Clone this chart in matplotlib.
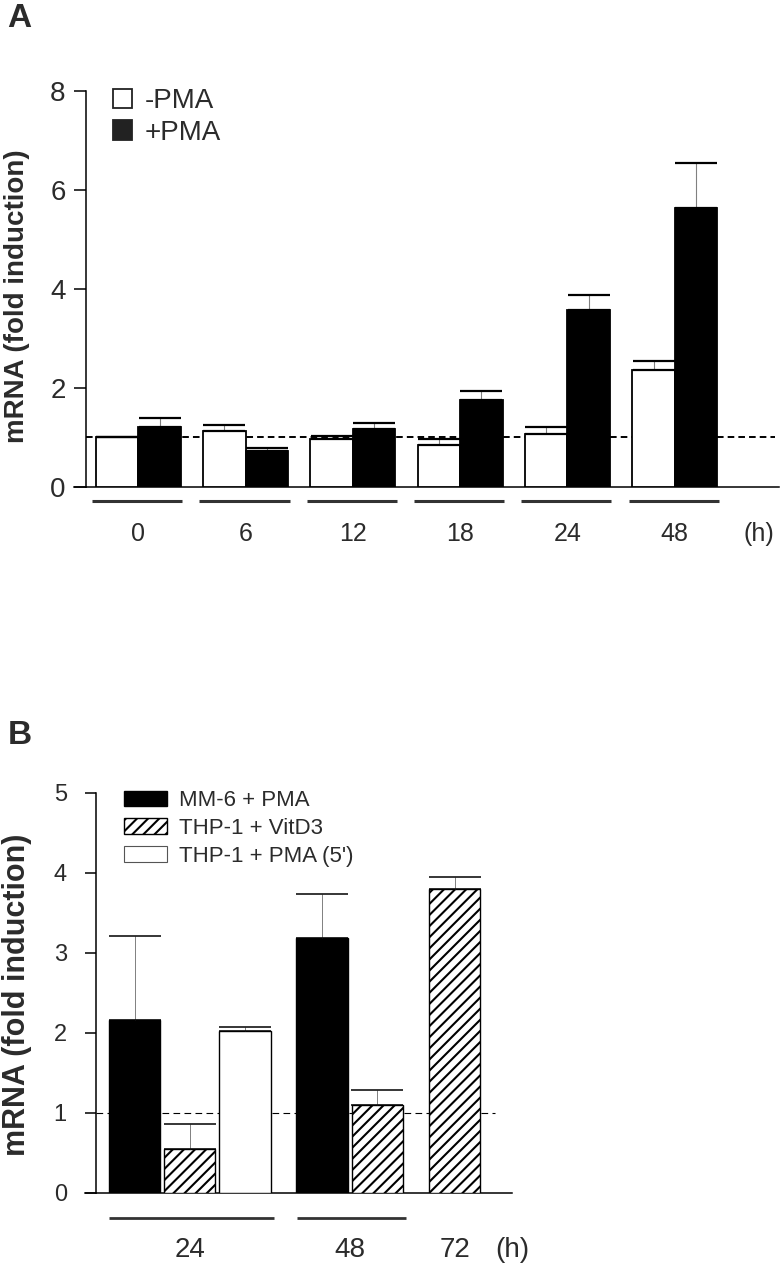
import numpy as np
import matplotlib.pyplot as plt
from matplotlib.patches import Patch

plt.rcParams['font.family'] = ['Liberation Sans', 'DejaVu Sans']
plt.rcParams['hatch.linewidth'] = 1.5
plt.rcParams['hatch.color'] = 'black'
txt = '#2b2b2b'

# panel A data
hours_a = ['0', '6', '12', '18', '24', '48']
minus_pma = [1.00, 1.13, 0.96, 0.84, 1.07, 2.37]
minus_pma_err = [0.0, 0.13, 0.07, 0.13, 0.14, 0.18]
plus_pma = [1.21, 0.73, 1.17, 1.75, 3.57, 5.63]
plus_pma_err = [0.18, 0.06, 0.12, 0.18, 0.31, 0.92]

# panel B data (nan = not measured)
times_b = ['24', '48', '72']
mm6 = [2.16, 3.18, np.nan]
mm6_err = [1.05, 0.55, np.nan]
vitd3 = [0.54, 1.09, 3.79]
vitd3_err = [0.32, 0.19, 0.16]
pma5 = [2.02, np.nan, np.nan]
pma5_err = [0.05, np.nan, np.nan]
labels_b = ['MM-6 + PMA', 'THP-1 + VitD3', "THP-1 + PMA (5')"]

W, H = 781, 1263
fig = plt.figure(figsize=(W / 100, H / 100), dpi=100)


def style_axis(ax, ext_px, width_px):
    for s in ['top', 'right']:
        ax.spines[s].set_visible(False)
    for s in ['left', 'bottom']:
        ax.spines[s].set_linewidth(1.1)
        ax.spines[s].set_color('black')
    # x-axis line runs out to the tick ends
    ax.plot([-ext_px / width_px, 0], [0, 0], transform=ax.transAxes,
            color='black', lw=1.1, clip_on=False)


def err_bars(ax, x, y, e, capsize, capthick, stem_lw):
    eb = ax.errorbar(x, y, yerr=[np.zeros(len(e)), e], fmt='none',
                     ecolor='#808080', elinewidth=stem_lw, capsize=capsize,
                     capthick=capthick, zorder=4)
    for c in eb[1]:
        c.set_markeredgecolor('black')


# ---------------- panel A ----------------
axA = fig.add_axes([86 / W, 1 - 487 / H, 693 / W, 396.3 / H])
xa = np.arange(len(hours_a))
w = 0.396
axA.bar(xa - w / 2, minus_pma, w, color='white', edgecolor='black', lw=1.3, zorder=3)
axA.bar(xa + w / 2, plus_pma, w, color='black', edgecolor='black', lw=1.3, zorder=3)
err_bars(axA, xa - w / 2, minus_pma, minus_pma_err, 15, 1.6, 0.8)
err_bars(axA, xa + w / 2, plus_pma, plus_pma_err, 15, 1.6, 0.8)
axA.set_xlim(-0.487, 5.971)
axA.set_ylim(0, 8)
axA.hlines(1, -0.487, 5.934, colors='black', lw=1.4, linestyles=(0, (3.4, 2.1)), zorder=2)
for xi in xa:
    axA.plot([xi - 0.43, xi + 0.41], [-0.28, -0.28], color='#333333', lw=2.2,
             clip_on=False, solid_capstyle='butt')
axA.set_yticks([0, 2, 4, 6, 8])
axA.tick_params(axis='y', labelsize=20, length=8.6, width=1.1, pad=6, labelcolor=txt)
axA.set_xticks(list(xa) + [5.785])
axA.set_xticklabels(hours_a + ['(h)'])
axA.tick_params(axis='x', labelsize=18, length=0, pad=25, labelcolor=txt)
style_axis(axA, 12, 693)
hA = [Patch(fc='white', ec='#222222', lw=1.3), Patch(fc='#222222', ec='#222222', lw=1.3)]
axA.legend(hA, ['-PMA', '+PMA'], loc='upper left',
           bbox_to_anchor=((113 - 86) / 693, 1.006), frameon=False, fontsize=20,
           handlelength=0.7, handleheight=0.7, handletextpad=0.45,
           labelspacing=0.2, borderpad=0, borderaxespad=0, labelcolor=txt)
fig.text(17 / W, 1 - 296 / H, 'mRNA (fold induction)', rotation=90, ha='center',
         va='center', fontsize=20, fontweight='bold', color=txt)
fig.text(7 / W, 1 - 3 / H, 'A', ha='left', va='top', fontsize=24, fontweight='bold', color=txt)

# ---------------- panel B ----------------
axB = fig.add_axes([96 / W, 1 - 1192.5 / H, 416 / W, 399.8 / H])
series_b = [(mm6, mm6_err, dict(color='black', edgecolor='black')),
            (vitd3, vitd3_err, dict(color='white', edgecolor='black', hatch='///')),
            (pma5, pma5_err, dict(color='white', edgecolor='black'))]
wb = 0.93
pos = 0.0
spans = []
for g in range(len(times_b)):
    start = pos
    for vals, errs, st in series_b:
        if not np.isnan(vals[g]):
            axB.bar(pos, vals[g], wb, lw=1.0, zorder=3, **st)
            err_bars(axB, [pos], [vals[g]], [errs[g]], 18.7, 1.1, 0.7)
            pos += 1
    spans.append((start, pos - 1))
    pos += 0.4
axB.set_xlim(-0.698, 6.524)
axB.set_ylim(0, 5)
axB.hlines(1, -0.698, 6.524, colors='black', lw=0.8, linestyles=(0, (6, 3.9)), zorder=2)
for a, b in spans[:2]:
    axB.plot([a - 0.46, b + 0.52], [-0.32, -0.32], color='#333333', lw=2.0,
             clip_on=False, solid_capstyle='butt')
axB.set_yticks([0, 1, 2, 3, 4, 5])
axB.tick_params(axis='y', labelsize=17, length=8, width=1.1, pad=13, labelcolor=txt)
centers = [(a + b) / 2 for a, b in spans]
axB.set_xticks(centers + [6.84])
axB.set_xticklabels(times_b + ['(h)'])
axB.tick_params(axis='x', labelsize=20, length=0, pad=32, labelcolor=txt)
style_axis(axB, 11, 416)
hB = [Patch(fc='black', ec='black', lw=1.0),
      Patch(fc='white', ec='black', hatch='///', lw=1.0),
      Patch(fc='white', ec='#555555', lw=0.8)]
axB.legend(hB, labels_b, loc='upper left',
           bbox_to_anchor=((124.3 - 96) / 416, 1.006), frameon=False, fontsize=16,
           handlelength=1.94, handleheight=0.70, handletextpad=0.53,
           labelspacing=0.3, borderpad=0, borderaxespad=0, labelcolor=txt)
fig.text(17 / W, 1 - 995 / H, 'mRNA (fold induction)', rotation=90, ha='center',
         va='center', fontsize=22, fontweight='bold', color=txt)
fig.text(8 / W, 1 - 720 / H, 'B', ha='left', va='top', fontsize=24, fontweight='bold', color=txt)

fig.savefig('out.png', dpi=100)
